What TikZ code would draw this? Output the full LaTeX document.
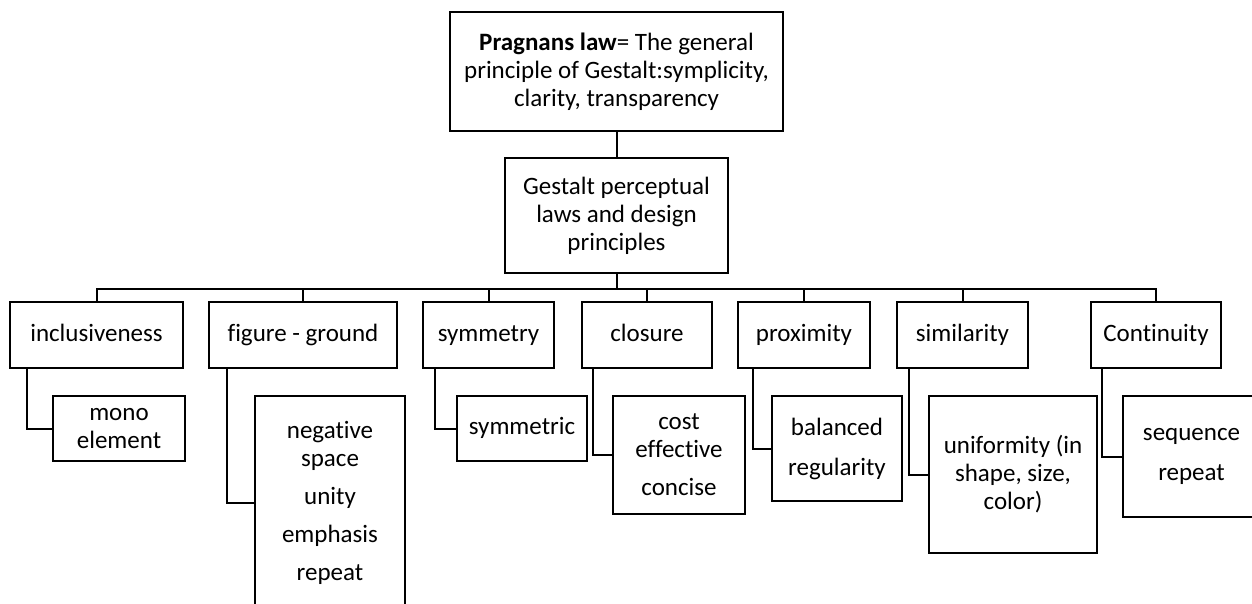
\documentclass[tikz,border=0pt]{standalone}
\usepackage{fontspec}
\setmainfont{Carlito}[Ligatures=NoCommon]
\begin{document}
\begin{tikzpicture}[x=0.5pt, y=-0.5pt, line width=1pt,
	every node/.style={draw, rectangle, align=center, inner sep=0pt, font=\fontsize{12.5}{14}\selectfont},
	law/.style={minimum height=33pt, text height=9pt, text depth=3pt}]
	\useasboundingbox (0,0) rectangle (1252,604);
	\clip (0,0) rectangle (1252,604);
	\node[minimum width=166.5pt, minimum height=59.5pt] at (616.5, 71.5) (top) {\textbf{Pragnans law}= The general\\principle of Gestalt:symplicity,\\clarity, transparency};
	\node[minimum width=111.5pt, minimum height=57.5pt] at (616.5, 215.5) (laws) {Gestalt perceptual\\laws and design\\principles};

	\node[law, minimum width=86.5pt] at (96.5, 335) (incl) {inclusiveness};
	\node[law, minimum width=94pt] at (303, 335) (figg) {figure - ground};
	\node[law, minimum width=65.5pt] at (488.5, 335) (symm) {symmetry};
	\node[law, minimum width=65pt] at (647, 335) (clos) {closure};
	\node[law, minimum width=66pt] at (804, 335) (prox) {proximity};
	\node[law, minimum width=65.5pt] at (962.5, 335) (simi) {similarity};
	\node[law, minimum width=65pt] at (1156, 335) (cont) {Continuity};

	\node[minimum width=66pt, minimum height=32.5pt] at (119, 428.5) (mono) {mono\\element};
	\node[minimum width=75pt, minimum height=107pt] at (330, 503) (negsp) {negative\\space\\[5pt]unity\\[5pt]emphasis\\[5pt]repeat};
	\node[minimum width=65pt, minimum height=32.5pt, text height=9pt, text depth=3pt] at (522, 428.5) (symc) {symmetric};
	\node[minimum width=66pt, minimum height=59pt] at (679, 455) (cost) {cost\\effective\\[5pt]concise};
	\node[minimum width=65pt, minimum height=52.5pt] at (837, 448.5) (bal) {balanced\\[6pt]regularity};
	\node[minimum width=84pt, minimum height=78.5pt] at (1013, 474.5) (unif) {uniformity (in\\shape, size,\\color)};
	\node[minimum width=68.5pt, minimum height=60.5pt] at (1191.5, 456.5) (seq) {sequence\\[6pt]repeat};

	\coordinate (bus) at (616.5, 289);
	\draw (top) -- (laws);
	\draw (laws) -- (bus);
	\draw (incl.north) |- (bus) -| (cont.north);
	\foreach \n in {figg, symm, clos, prox, simi}
		\draw (\n.north) -- (\n.north |- bus);

	\draw ([xshift=9pt]incl.south west) |- (mono.west);
	\draw ([xshift=9.5pt]figg.south west) |- (negsp.west);
	\draw ([xshift=6.5pt]symm.south west) |- (symc.west);
	\draw ([xshift=6pt]clos.south west) |- (cost.west);
	\draw ([xshift=8pt]prox.south west) |- (bal.west);
	\draw ([xshift=6.5pt]simi.south west) |- (unif.west);
	\draw ([xshift=6pt]cont.south west) |- (seq.west);
\end{tikzpicture}
\end{document}
